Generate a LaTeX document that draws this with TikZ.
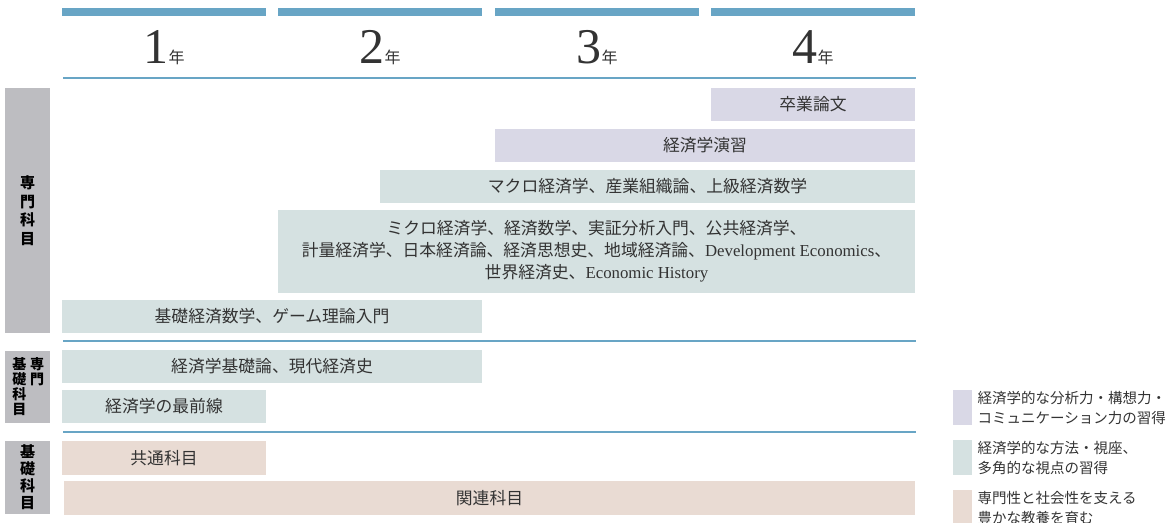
\documentclass[tikz,border=0pt]{standalone}
\usepackage{fontspec}
\setmainfont{Noto Sans CJK JP}
\newfontfamily\latfont{Liberation Serif}
\usepackage{xcolor}
\usepackage{tikz}
\usetikzlibrary{positioning}
\definecolor{yearblue}{HTML}{68A5C5}
\definecolor{seminar}{HTML}{D9D8E6}
\definecolor{method}{HTML}{D5E1E1}
\definecolor{liberal}{HTML}{E9DBD3}
\definecolor{sidegrey}{HTML}{BDBDC1}
\definecolor{ink}{HTML}{333333}
\newcommand{\yearlabel}[1]{{\latfont\fontsize{50}{50}\selectfont #1}{\fontsize{16}{16}\selectfont 年}}
\newcommand{\lat}[1]{{\latfont #1}}

\begin{document}
\begin{tikzpicture}[x=1pt, y=-1pt,
    course/.style={anchor=north west, inner sep=0pt, outer sep=0pt, align=center, text=ink, font=\fontsize{16.8}{22}\selectfont},
    side/.style={anchor=north west, fill=sidegrey, inner sep=0pt, outer sep=0pt, minimum width=45},
    sidetext/.style={inner sep=0pt, align=center, font=\bfseries\fontsize{15}{18.5}\selectfont},
    rule/.style={draw=yearblue, line width=2.2pt},
    keybox/.style={anchor=north west, inner sep=0pt, minimum width=19, minimum height=35},
    keytext/.style={anchor=west, inner sep=0pt, align=left, text=ink, font=\fontsize{14.5}{20}\selectfont}
]
    \useasboundingbox (0,0) rectangle (1175,522);

    % year header
    \foreach \n/\xl in {1/62, 2/278, 3/495, 4/711} {
        \fill[yearblue] (\xl,8) rectangle ++(204,8);
        \node[anchor=base, inner sep=0pt, text=ink] (year\n) at (\xl+102,63) {\yearlabel{\n}};
    }
    \draw[rule] (63,78) -- (916,78);
    \draw[rule] (63,341) -- (916,341);
    \draw[rule] (63,432) -- (916,432);

    % side labels
    \node[side, minimum height=245] (spec) at (5,88) {};
    \node[sidetext] (spectxt) at (spec) {専\\門\\科\\目};
    \node[side, minimum height=72] (basicspec) at (5,351) {};
    \node[sidetext, anchor=north, font=\bfseries\fontsize{14}{15}\selectfont] (bsleft) at (19.5,357) {基\\礎\\科\\目};
    \node[sidetext, anchor=north, font=\bfseries\fontsize{14}{15}\selectfont] (bsright) at (37,357) {専\\門};
    \node[side, minimum height=73] (basic) at (5,441) {};
    \node[sidetext, font=\bfseries\fontsize{15}{17}\selectfont] (basictxt) at (basic) {基\\礎\\科\\目};

    % specialised courses
    \node[course, fill=seminar, minimum width=204, minimum height=33] (thesis) at (711,88) {卒業論文};
    \node[course, fill=seminar, minimum width=420, minimum height=33] (seminar) at (495,129) {経済学演習};
    \node[course, fill=method, minimum width=535, minimum height=33] (macro) at (380,170) {マクロ経済学、産業組織論、上級経済数学};
    \node[course, fill=method, minimum width=637, minimum height=83] (micro) at (278,210)
        {ミクロ経済学、経済数学、実証分析入門、公共経済学、\\
         計量経済学、日本経済論、経済思想史、地域経済論、\lat{Development Economics}、\\
         世界経済史、\lat{Economic History}};
    \node[course, fill=method, minimum width=420, minimum height=33] (gamemath) at (62,300) {基礎経済数学、ゲーム理論入門};

    % basic specialised courses
    \node[course, fill=method, minimum width=420, minimum height=33] (intro) at (62,350) {経済学基礎論、現代経済史};
    \node[course, fill=method, minimum width=204, minimum height=33] (frontier) at (62,390) {経済学の最前線};

    % basic courses
    \node[course, fill=liberal, minimum width=204, minimum height=34] (common) at (62,441) {共通科目};
    \node[course, fill=liberal, minimum width=851, minimum height=34] (related) at (64,481) {関連科目};

    % legend
    \node[keybox, fill=seminar] (key1) at (953,390) {};
    \node[keytext, right=5pt of key1] (key1txt) {経済学的な分析力・構想力・\\コミュニケーション力の習得};
    \node[keybox, fill=method] (key2) at (953,440) {};
    \node[keytext, right=5pt of key2] (key2txt) {経済学的な方法・視座、\\多角的な視点の習得};
    \node[keybox, fill=liberal] (key3) at (953,490) {};
    \node[keytext, right=5pt of key3] (key3txt) {専門性と社会性を支える\\豊かな教養を育む};
\end{tikzpicture}
\end{document}
